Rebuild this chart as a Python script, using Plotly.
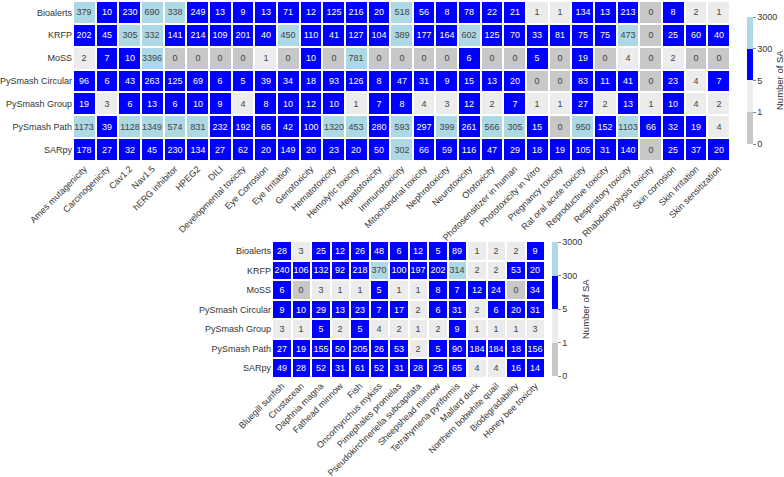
import plotly.graph_objects as go

models = ["Bioalerts", "KRFP", "MoSS", "PySmash Circular", "PySmash Group", "PySmash Path", "SARpy"]

top_endpoints = ["Ames mutagenicity", "Carcinogenicity", "Cav1.2", "Nav1.5", "hERG inhibitor", "HPEG2", "DILI",
                 "Developmental toxicity", "Eye Corrosion", "Eye Irritation", "Genotoxicity", "Hematotoxicity",
                 "Hemolytic toxicity", "Hepatotoxicity", "Immunotoxicity", "Mitochondrial toxicity",
                 "Nephrotoxicity", "Neurotoxicity", "Ototoxicity", "Photosensitizer in human",
                 "Phototoxicity in Vitro", "Pregnancy toxicity", "Rat oral acute toxicity",
                 "Reproductive toxicity", "Respiratory toxicity", "Rhabdomyolysis toxicity",
                 "Skin corrosion", "Skin irritation", "Skin sensitization"]

top_bioalerts = [379, 10, 230, 690, 338, 249, 13, 9, 13, 71, 12, 125, 216, 20, 518, 56, 8, 78, 22, 21, 1, 1, 134, 13, 213, 0, 8, 2, 1]
top_krfp = [202, 45, 305, 332, 141, 214, 109, 201, 40, 450, 110, 41, 127, 104, 389, 177, 164, 602, 125, 70, 33, 81, 75, 75, 473, 0, 25, 60, 40]
top_moss = [2, 7, 10, 3396, 0, 0, 0, 0, 1, 0, 10, 0, 781, 0, 0, 0, 0, 6, 0, 0, 5, 0, 19, 0, 4, 0, 2, 0, 0]
top_circular = [96, 6, 43, 263, 125, 69, 6, 5, 39, 34, 18, 93, 126, 8, 47, 31, 9, 15, 13, 20, 0, 0, 83, 11, 41, 0, 23, 4, 7]
top_group = [19, 3, 6, 13, 6, 10, 9, 4, 8, 10, 12, 10, 1, 7, 8, 4, 3, 12, 2, 7, 1, 1, 27, 2, 13, 1, 10, 4, 2]
top_path = [1173, 39, 1128, 1349, 574, 831, 232, 192, 65, 42, 100, 1320, 453, 280, 593, 297, 399, 261, 566, 305, 15, 0, 950, 152, 1103, 66, 32, 19, 4]
top_sarpy = [178, 27, 32, 45, 230, 134, 27, 62, 20, 149, 20, 23, 20, 50, 302, 66, 59, 116, 47, 29, 18, 19, 105, 31, 140, 0, 25, 37, 20]

bot_endpoints = ["Bluegill sunfish", "Crustacean", "Daphnia magna", "Fathead minnow", "Fish",
                 "Oncorhynchus mykiss", "Pimephales promelas", "Pseudokirchneriella subcapitata",
                 "Sheepshead minnow", "Tetrahymena pyriformis", "Mallard duck",
                 "Northern bobwhite quail", "Biodegradability", "Honey bee toxicity"]

bot_bioalerts = [28, 3, 25, 12, 26, 48, 6, 12, 5, 89, 1, 2, 2, 9]
bot_krfp = [240, 106, 132, 92, 218, 370, 100, 197, 202, 314, 2, 2, 53, 20]
bot_moss = [6, 0, 3, 1, 1, 5, 1, 1, 8, 7, 12, 24, 0, 34]
bot_circular = [9, 10, 29, 13, 23, 7, 17, 2, 6, 31, 2, 6, 20, 31]
bot_group = [3, 1, 5, 2, 5, 4, 2, 1, 2, 9, 1, 1, 1, 3]
bot_path = [27, 19, 155, 50, 205, 26, 53, 2, 5, 90, 184, 184, 18, 156]
bot_sarpy = [49, 28, 52, 31, 61, 52, 31, 28, 25, 65, 4, 4, 16, 14]

bin_labels = ["0", "1", "5", "300", "3000"]
bin_colors = ["#c8c8c8", "#ececec", "#0000ff", "#add8e6"]

top_vals = [top_bioalerts, top_krfp, top_moss, top_circular, top_group, top_path, top_sarpy]
bot_vals = [bot_bioalerts, bot_krfp, bot_moss, bot_circular, bot_group, bot_path, bot_sarpy]


def bin_index(v):
    if v <= 0:
        return 0.5
    if v < 5:
        return 1.5
    if v < 300:
        return 2.5
    return 3.5


colorscale = []
n = len(bin_colors)
for i, c in enumerate(bin_colors):
    colorscale.append([i / n, c])
    colorscale.append([(i + 1) / n, c])

W, H = 784, 477
FONT = "Liberation Sans, Arial, sans-serif"


def cbar(x_px, y_top, y_bot):
    return dict(
        x=x_px / W, xanchor="left", xpad=0,
        y=1 - (y_top + y_bot) / 2 / H, yanchor="middle", ypad=0,
        len=(y_bot - y_top) / H, lenmode="fraction",
        thickness=6, outlinewidth=0,
        tickvals=[0, 1, 2, 3, 4], ticktext=bin_labels,
        ticks="outside", ticklen=3, tickcolor="#888",
        tickfont=dict(size=9, color="#333", family=FONT),
    )


fig = go.Figure()


def add_panel(vals, cats, xa, ya, cb):
    is_blue = [[2.5 == bin_index(v) for v in row] for row in vals]
    # non-blue cells: dark text
    fig.add_trace(go.Heatmap(
        z=[[None if b else bin_index(v) for v, b in zip(row, brow)] for row, brow in zip(vals, is_blue)],
        x=cats, y=models,
        text=[["" if b else str(v) for v, b in zip(row, brow)] for row, brow in zip(vals, is_blue)],
        texttemplate="%{text}", textfont=dict(size=9, family=FONT, color="#444"),
        colorscale=colorscale, zmin=0, zmax=4, xgap=2, ygap=2,
        colorbar=cb, showscale=True, xaxis=xa, yaxis=ya, hoverongaps=False,
    ))
    # blue cells: white text
    fig.add_trace(go.Heatmap(
        z=[[bin_index(v) if b else None for v, b in zip(row, brow)] for row, brow in zip(vals, is_blue)],
        x=cats, y=models,
        text=[[str(v) if b else "" for v, b in zip(row, brow)] for row, brow in zip(vals, is_blue)],
        texttemplate="%{text}", textfont=dict(size=9, family=FONT, color="white"),
        colorscale=colorscale, zmin=0, zmax=4, xgap=2, ygap=2,
        showscale=False, xaxis=xa, yaxis=ya, hoverongaps=False,
    ))


add_panel(top_vals, top_endpoints, "x", "y", cbar(747, 17, 144))
add_panel(bot_vals, bot_endpoints, "x2", "y2", cbar(552, 242, 376))

axfont = dict(size=9, color="#333", family=FONT)
common = dict(showgrid=False, zeroline=False, ticks="", automargin=False, showline=False)
fig.update_layout(
    template="none",
    width=W, height=H, margin=dict(l=0, r=0, t=0, b=0, autoexpand=False),
    paper_bgcolor="white", plot_bgcolor="white",
    font=dict(family=FONT),
    xaxis=dict(domain=[73 / W, 730 / W], tickangle=-45, tickfont=axfont, anchor="y", **common),
    yaxis=dict(domain=[1 - 161 / H, 1 - 1 / H], autorange="reversed", tickfont=axfont, anchor="x", **common),
    xaxis2=dict(domain=[272 / W, 545 / W], tickangle=-45, tickfont=axfont, anchor="y2", **common),
    yaxis2=dict(domain=[1 - 378 / H, 1 - 241 / H], autorange="reversed", tickfont=axfont, anchor="x2", **common),
    annotations=[
        dict(text="Number of SA", x=779 / W, y=1 - 80 / H, xref="paper", yref="paper", textangle=-90,
             showarrow=False, font=dict(size=9.5, color="#333", family=FONT), xanchor="center", yanchor="middle"),
        dict(text="Number of SA", x=585 / W, y=1 - 309 / H, xref="paper", yref="paper", textangle=-90,
             showarrow=False, font=dict(size=9.5, color="#333", family=FONT), xanchor="center", yanchor="middle"),
    ],
)

fig.write_html("out.html")
